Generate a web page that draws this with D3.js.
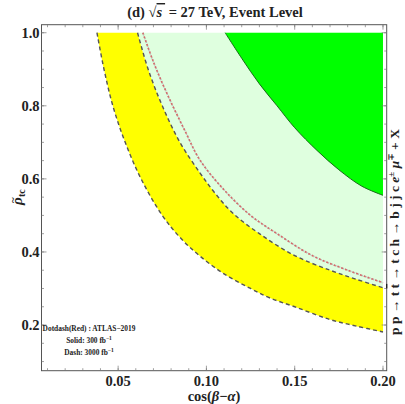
<!DOCTYPE html>
<html>
<head>
<meta charset="utf-8">
<script src="https://cdnjs.cloudflare.com/ajax/libs/d3/7.8.5/d3.min.js"></script>
<style>
  body { margin: 0; background: #fff; }
  text { font-family: "Liberation Serif", "DejaVu Serif", serif; font-weight: bold; fill: #222; }
</style>
</head>
<body>
<div id="chart"></div>
<script>
// Contour points: [cos(beta-alpha), rho_tc]
var dash3000Outer = [[0.038, 1.0], [0.042, 0.9], [0.047, 0.8], [0.054, 0.7], [0.063, 0.6],
    [0.075, 0.5], [0.085, 0.44], [0.096, 0.39], [0.11, 0.34], [0.125, 0.30], [0.136, 0.274],
    [0.15, 0.25], [0.17, 0.215], [0.185, 0.197], [0.2, 0.181]];
var dash3000Inner = [[0.061, 1.0], [0.067, 0.9], [0.075, 0.8], [0.085, 0.7], [0.0964, 0.616],
    [0.105, 0.56], [0.115, 0.506], [0.13, 0.45], [0.15, 0.39], [0.17, 0.35], [0.185, 0.325],
    [0.2, 0.302]];
var atlas2019 = [[0.064, 1.0], [0.07, 0.92], [0.078, 0.83], [0.088, 0.73], [0.0964, 0.651],
    [0.11, 0.57], [0.125, 0.5], [0.14, 0.45], [0.16, 0.39], [0.18, 0.35], [0.2, 0.316]];
var solid300 = [[0.1106, 1.0], [0.12, 0.93], [0.13, 0.86], [0.14, 0.8], [0.15, 0.74],
    [0.1626, 0.678], [0.175, 0.625], [0.188, 0.58], [0.2, 0.555]];

var xTicks = [0.05, 0.10, 0.15, 0.20];
var yTicks = [0.2, 0.4, 0.6, 0.8, 1.0];
var legendLines = ["Dotdash(Red) : ATLAS\u22122019", "Solid: 300 fb", "Dash: 3000 fb"];

// frame
var W = 405, H = 404;
var frame = { left: 41.5, top: 24.7, right: 386.7, bottom: 370.7 };

var x = d3.scaleLinear().domain([0.0066, 0.2021]).range([frame.left, frame.right]);
var y = d3.scaleLinear().domain([0.075, 1.022]).range([frame.bottom, frame.top]);

var svg = d3.select("#chart").append("svg")
    .attr("width", W)
    .attr("height", H);

var line = d3.line()
    .x(function (d) { return x(d[0]); })
    .y(function (d) { return y(d[1]); })
    .curve(d3.curveCatmullRom);

var corner = [0.2, 1.0];

// light green: right of inner dashed curve
svg.append("path")
    .attr("d", line(dash3000Inner) + "L" + x(corner[0]) + "," + y(corner[1]) + "Z")
    .attr("fill", "#dfffdf");

// yellow band between the two dashed curves
svg.append("path")
    .attr("d", line(dash3000Outer) + line(dash3000Inner.slice().reverse()).replace(/^M/, "L") + "Z")
    .attr("fill", "#ffff00");

// green: right of solid curve
svg.append("path")
    .attr("d", line(solid300) + "L" + x(corner[0]) + "," + y(corner[1]) + "Z")
    .attr("fill", "#00ff00");

svg.append("path")
    .attr("d", line(solid300))
    .attr("fill", "none")
    .attr("stroke", "#1a6a1a")
    .attr("stroke-width", 1);

[dash3000Outer, dash3000Inner].forEach(function (c) {
    svg.append("path")
        .attr("d", line(c))
        .attr("fill", "none")
        .attr("stroke", "#555")
        .attr("stroke-width", 1.4)
        .attr("stroke-dasharray", "4,3");
});

// red dotdash (ATLAS-2019): grey dots under red dashes
svg.append("path")
    .attr("d", line(atlas2019))
    .attr("fill", "none")
    .attr("stroke", "#b9b9b9")
    .attr("stroke-width", 1.6)
    .attr("stroke-dasharray", "1,1");
svg.append("path")
    .attr("d", line(atlas2019))
    .attr("fill", "none")
    .attr("stroke", "#d46a6a")
    .attr("stroke-width", 1.6)
    .attr("stroke-dasharray", "2,2");

// frame box
svg.append("rect")
    .attr("x", frame.left).attr("y", frame.top)
    .attr("width", frame.right - frame.left)
    .attr("height", frame.bottom - frame.top)
    .attr("fill", "none")
    .attr("stroke", "#555")
    .attr("stroke-width", 1);

// ticks (inward, all four sides)
var xMinor = d3.range(0.01, 0.2001, 0.01);
var yMinor = d3.range(0.1, 1.0001, 0.05);
function tickSet(vals, len) {
    vals.forEach(function (v) {
        svg.append("line").attr("x1", x(v)).attr("x2", x(v))
            .attr("y1", frame.bottom).attr("y2", frame.bottom - len)
            .attr("stroke", "#777").attr("stroke-width", 0.7);
        svg.append("line").attr("x1", x(v)).attr("x2", x(v))
            .attr("y1", frame.top).attr("y2", frame.top + len)
            .attr("stroke", "#777").attr("stroke-width", 0.7);
    });
}
tickSet(xTicks, 5);
tickSet(xMinor, 2.5);
function yTickSet(vals, len) {
    vals.forEach(function (v) {
        svg.append("line").attr("y1", y(v)).attr("y2", y(v))
            .attr("x1", frame.left).attr("x2", frame.left + len)
            .attr("stroke", "#777").attr("stroke-width", 0.7);
        svg.append("line").attr("y1", y(v)).attr("y2", y(v))
            .attr("x1", frame.right).attr("x2", frame.right - len)
            .attr("stroke", "#777").attr("stroke-width", 0.7);
    });
}
yTickSet(yTicks, 5);
yTickSet(yMinor, 2.5);

// tick labels
svg.selectAll(".xl").data(xTicks).enter().append("text")
    .attr("x", function (d) { return x(d); })
    .attr("y", frame.bottom + 15)
    .attr("text-anchor", "middle")
    .attr("font-size", 14.5)
    .text(function (d) { return d3.format(".2f")(d); });

svg.selectAll(".yl").data(yTicks).enter().append("text")
    .attr("x", frame.left - 2)
    .attr("y", function (d) { return y(d) + 5; })
    .attr("text-anchor", "end")
    .attr("font-size", 14.5)
    .text(function (d) { return d3.format(".1f")(d); });

// title
var title = svg.append("text")
    .attr("x", 215).attr("y", 17)
    .attr("text-anchor", "middle")
    .attr("font-size", 14.5);
title.append("tspan").text("(d) \u221A");
title.append("tspan").attr("font-style", "italic")
    .style("text-decoration", "overline").text("s\u2009");
title.append("tspan").text(" = 27 TeV, Event Level");

// x label
var xl = svg.append("text")
    .attr("x", 214).attr("y", 401)
    .attr("text-anchor", "middle")
    .attr("font-size", 14.5);
xl.append("tspan").text("cos(");
xl.append("tspan").attr("font-style", "italic").text("\u03B2");
xl.append("tspan").text("\u2212");
xl.append("tspan").attr("font-style", "italic").text("\u03B1");
xl.append("tspan").text(")");

// y label: rho with a tilde on top, subscript tc
var yg = svg.append("g").attr("transform", "translate(22,198) rotate(-90)");
yg.append("text").attr("x", -7).attr("y", 0)
    .attr("font-size", 15).attr("font-style", "italic").text("\u03C1");
yg.append("text").attr("x", -5).attr("y", -6)
    .attr("font-size", 11).text("~");
yg.append("text").attr("x", 1).attr("y", 3)
    .attr("font-size", 10).text("tc");

// right process label
var rl = svg.append("text")
    .attr("transform", "translate(399,232) rotate(-90)")
    .attr("text-anchor", "middle")
    .attr("font-size", 13.5);
rl.append("tspan").text("p p \u2192 t ");
rl.append("tspan").style("text-decoration", "overline").text("t");
rl.append("tspan").text(" \u2192 t c h \u2192 b j j c ");
rl.append("tspan").attr("font-style", "italic").text("e");
rl.append("tspan").attr("font-size", 9).attr("dy", -5).text("\u00B1");
rl.append("tspan").attr("dy", 5).text(" ");
rl.append("tspan").attr("font-style", "italic").text("\u03BC");
rl.append("tspan").attr("font-size", 9).attr("dy", -5).text("\u2213");
rl.append("tspan").attr("dy", 5).text(" + X");

// legend note
legendLines.forEach(function (s, i) {
    var t = svg.append("text")
        .attr("x", 89).attr("y", 331 + i * 12)
        .attr("text-anchor", "middle")
        .attr("font-size", 7.4);
    t.append("tspan").text(s);
    if (i > 0) {
        t.append("tspan").attr("font-size", 5.5).attr("dy", -3).text("\u22121");
    }
});
</script>
</body>
</html>
